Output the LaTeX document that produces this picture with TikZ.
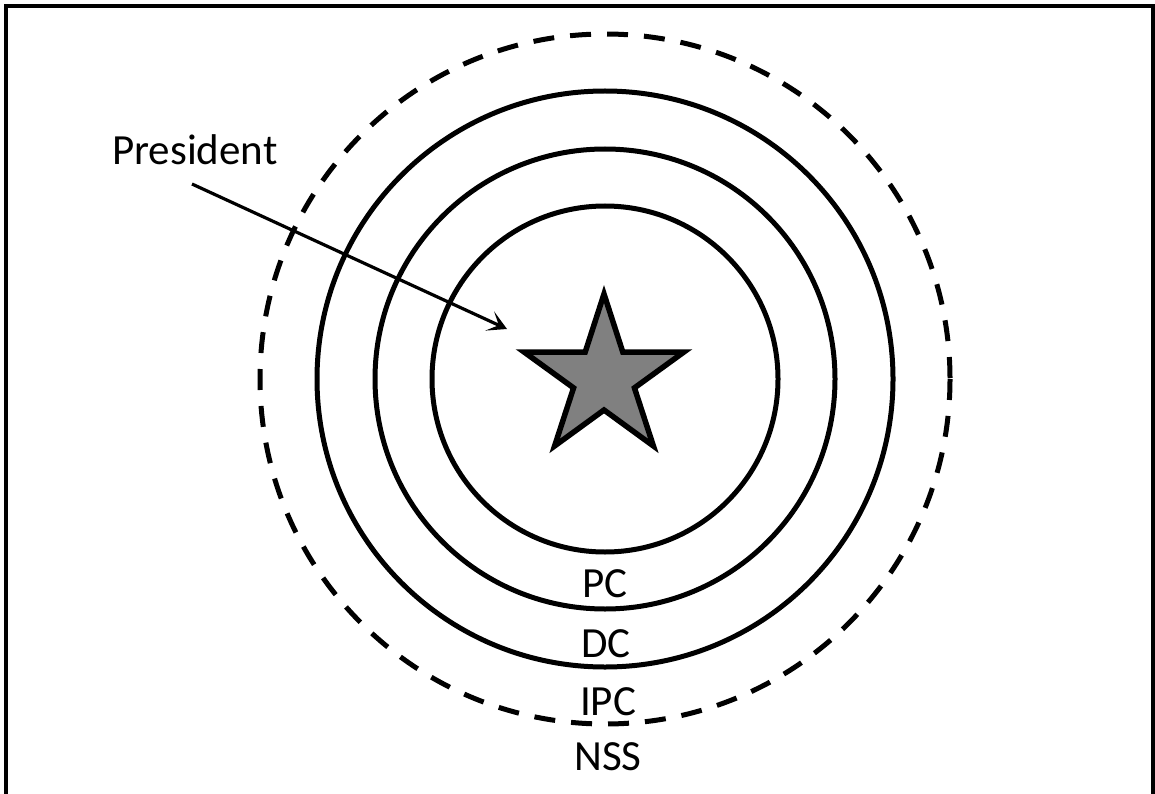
\documentclass[tikz,border=0pt]{standalone}
\usepackage{fontspec}
\setmainfont{Carlito}
\usetikzlibrary{arrows.meta}
\begin{document}
\begin{tikzpicture}[x=1pt,y=-1pt,
  ring/.style={line width=5pt},
  dashring/.style={line width=5pt,dash pattern=on 21pt off 16pt},
  lbl/.style={inner sep=0pt,font=\fontsize{43}{50}\selectfont},
  starfill/.style={fill=black!50,draw=black,line width=5.5pt,line join=miter},
  frame/.style={line width=3.5pt}]
\useasboundingbox (0,0) rectangle (1155,794);
\draw[frame] (6,800) -- (6,6) -- (1153,6) -- (1153,800);
\coordinate (c) at (605,379);
\draw[ring] (c) circle[radius=173];
\draw[ring] (c) circle[radius=230];
\draw[ring] (c) circle[radius=288];
\draw[dashring] (c) circle[radius=345];
% star
\begin{scope}[shift={(604,378)},y=1pt]
\draw[starfill] (90:84) -- (126:32) -- (162:84) -- (198:32) -- (234:84)
  -- (270:32) -- (306:84) -- (342:32) -- (18:84) -- (54:32) -- cycle;
\end{scope}
\node[lbl,anchor=base west] (pres) at (112,165) {President};
\coordinate (astart) at (192,184);
\coordinate (aend) at (507,329);
\draw[line width=3.2pt,-{Stealth[length=19pt,width=21pt,inset=10pt]}] (astart) -- (aend);
\node[lbl] (pc) at (605,584) {PC};
\node[lbl] (dc) at (606,644) {DC};
\node[lbl] (ipc) at (608,702) {IPC};
\node[lbl] (nss) at (608,757) {NSS};
\end{tikzpicture}
\end{document}
